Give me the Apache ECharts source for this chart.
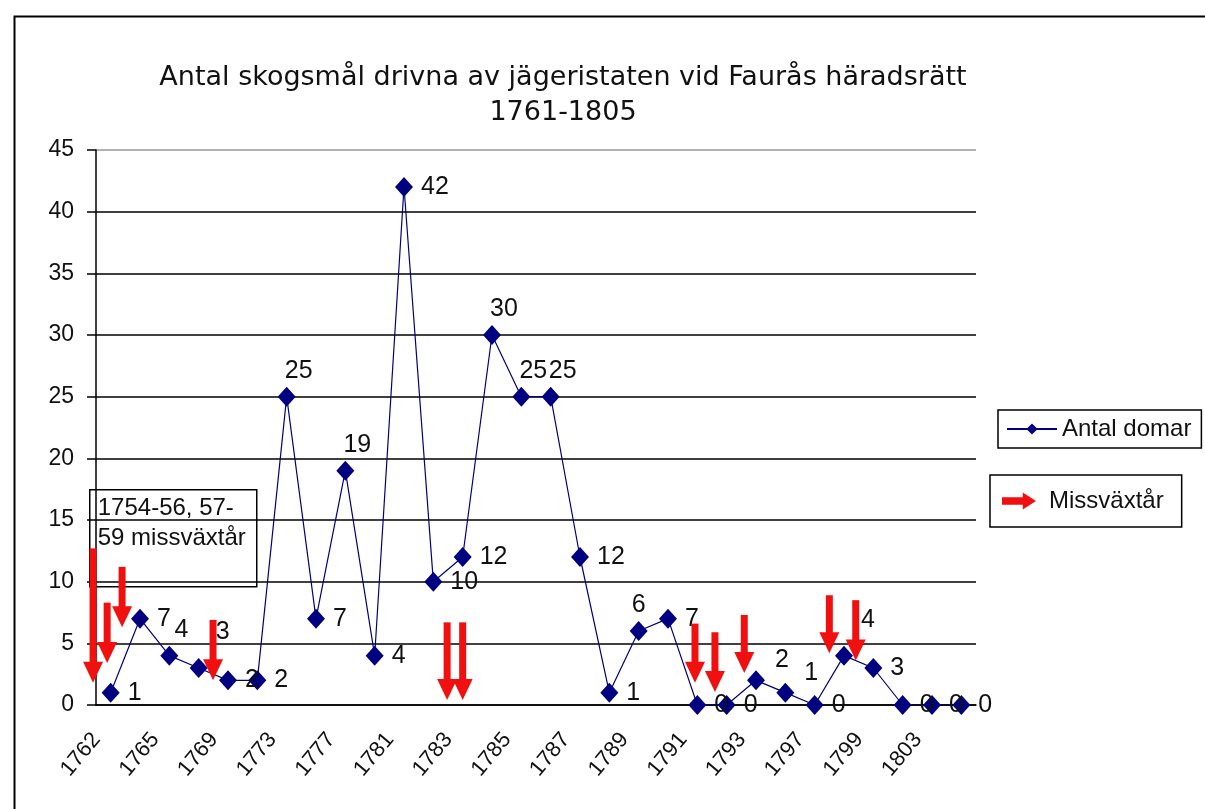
<!DOCTYPE html>
<html>
<head>
<meta charset="utf-8">
<script src="https://cdn.jsdelivr.net/npm/echarts@6/dist/echarts.min.js"></script>
<style>
  html, body { margin: 0; padding: 0; background: #fff; }
  #chart { width: 1205px; height: 809px; }
</style>
</head>
<body>
<div id="chart"></div>
<script>
// years (only every other one is labelled in the original)
var years = ['1762', '1764', '1765', '1767', '1769', '1771', '1773', '1775', '1777', '1779',
  '1781', '1782', '1783', '1784', '1785', '1786', '1787', '1788', '1789', '1790',
  '1791', '1792', '1793', '1795', '1797', '1798', '1799', '1801', '1803', '1805']
var domar = [1, 7, 4, 3, 2, 2, 25, 7, 19, 4, 42, 10, 12, 30, 25, 25, 12, 1, 6, 7,
  0, 0, 2, 1, 0, 4, 3, 0, 0, 0]
// where each data label sits: r = right, t = above, c = straight above, u / w = up-right
var labelPlace = ['r', 'r', 't', 'w', 'r', 'r', 't', 'r', 't', 'r', 'r', 'r', 'r', 't', 't',
  't', 'r', 'r', 'c', 'r', 'r', 'r', 'u', 'u', 'r', 'w', 'r', 'r', 'r', 'r']
// missväxtår arrows: position on the category scale, top and tip value
var missX = [-0.6, -0.12, 0.39, 3.49, 11.47, 12.0, 19.92, 20.6, 21.6, 24.5, 25.4]
var missTop = [12.7, 8.3, 11.2, 6.9, 6.7, 6.7, 6.6, 5.9, 7.3, 8.9, 8.5]
var missTip = [1.8, 3.4, 6.3, 2.0, 0.4, 0.4, 1.8, 1.05, 2.6, 4.2, 3.6]

var font = 'Liberation Sans'
var chart = echarts.init(document.getElementById('chart'))

var lineData = domar.map(function(v, i) {
  var p = labelPlace[i]
  var label = { position: 'right', distance: 8 }
  if (p === 't') label = { position: 'top', distance: 3, offset: [12, 0] }
  if (p === 'c') label = { position: 'top', distance: 3 }
  if (p === 'u') label = { position: 'right', distance: 10, offset: [0, -20] }
  if (p === 'w') label = { position: 'right', distance: 8, offset: [0, -36] }
  return { value: v, label: label }
})

var arrowData = missX.map(function(x, i) {
  return [x, missTop[i], missTip[i]]
})

function renderArrow(params, api) {
  var a = api.coord([api.value(0), api.value(1)])
  var b = api.coord([api.value(0), api.value(2)])
  var headH = 21
  var headW = 20
  var shaft = 7
  return {
    type: 'group',
    children: [
      {
        type: 'rect',
        shape: { x: a[0] - shaft / 2, y: a[1], width: shaft, height: Math.max(b[1] - a[1] - headH + 1, 0) },
        style: { fill: '#f01010' }
      },
      {
        type: 'polygon',
        shape: { points: [[a[0] - headW / 2, b[1] - headH], [a[0] + headW / 2, b[1] - headH], [a[0], b[1]]] },
        style: { fill: '#f01010' }
      }
    ]
  }
}

var option = {
  backgroundColor: '#fff',
  animation: false,
  textStyle: { fontFamily: font },
  title: {
    text: 'Antal skogsmål drivna av jägeristaten vid Faurås häradsrätt\n1761-1805',
    left: 558,
    top: 55,
    textAlign: 'center',
    textStyle: { fontFamily: 'DejaVu Sans', fontSize: 27, fontWeight: 'normal', color: '#111', lineHeight: 35 }
  },
  legend: [
    {
      data: ['Antal domar'],
      left: 998,
      top: 410,
      borderColor: '#000',
      borderWidth: 1.5,
      padding: [7, 10, 7, 8],
      itemWidth: 50,
      itemHeight: 14,
      itemGap: 4,
      textStyle: { fontFamily: font, fontSize: 24, color: '#111' }
    },
    {
      data: [{ name: 'Missväxtår', icon: 'path://M0,5 L22,5 L22,0 L36,9 L22,18 L22,13 L0,13 Z' }],
      left: 990,
      top: 475,
      borderColor: '#000',
      borderWidth: 1.5,
      padding: [14, 18, 14, 12],
      itemWidth: 38,
      itemHeight: 17,
      textStyle: { fontFamily: font, fontSize: 24, color: '#111', padding: [0, 0, 0, 6] }
    }
  ],
  grid: { left: 96, right: 229, top: 150, bottom: 104 },
  xAxis: [
    {
      type: 'category',
      data: years,
      boundaryGap: true,
      axisLine: { lineStyle: { color: '#000', width: 1.5 } },
      axisTick: { interval: 0, length: 8, lineStyle: { color: '#000', width: 1.5 } },
      axisLabel: {
        interval: 1,
        rotate: 50,
        margin: 14,
        padding: [0, 22, 0, 0],
        fontFamily: font,
        fontSize: 22,
        color: '#111'
      }
    },
    { type: 'value', min: -0.5, max: 29.5, show: false }
  ],
  yAxis: {
    type: 'value',
    min: 0,
    max: 45,
    interval: 5,
    axisLine: { show: true, onZero: false, lineStyle: { color: '#000', width: 1.5 } },
    axisTick: { show: true, length: 9, lineStyle: { color: '#000', width: 1.5 } },
    axisLabel: { margin: 22, fontFamily: font, fontSize: 23, color: '#111' },
    splitLine: {
      lineStyle: {
        width: 1.5,
        color: ['#000', '#000', '#000', '#000', '#000', '#000', '#000', '#000', '#000', '#999']
      }
    }
  },
  series: [
    {
      name: 'Antal domar',
      type: 'line',
      data: lineData,
      symbol: 'diamond',
      symbolSize: [18, 20],
      showAllSymbol: true,
      color: '#000080',
      lineStyle: { color: '#000080', width: 1.2 },
      itemStyle: { color: '#000080' },
      label: { show: true, fontFamily: font, fontSize: 25, color: '#111' },
      z: 3
    },
    {
      name: 'Missväxtår',
      type: 'custom',
      xAxisIndex: 1,
      yAxisIndex: 0,
      data: arrowData,
      renderItem: renderArrow,
      itemStyle: { color: '#f01010' },
      clip: false,
      z: 5
    }
  ],
  graphic: [
    {
      type: 'rect',
      left: 12,
      top: 14,
      z: 0,
      shape: { width: 1250, height: 850 },
      style: { fill: 'none', stroke: '#000', lineWidth: 2 }
    },
    {
      type: 'group',
      left: 89,
      top: 489,
      z: 1,
      children: [
        {
          type: 'rect',
          shape: { width: 167, height: 97 },
          style: { fill: '#fff', stroke: '#000', lineWidth: 1.5 }
        },
        {
          type: 'text',
          x: 8,
          y: 4,
          style: {
            text: '1754-56, 57-\n59 missväxtår',
            fontFamily: font,
            fontSize: 24,
            lineHeight: 30,
            fill: '#111'
          }
        }
      ]
    }
  ]
}

chart.setOption(option)
</script>
</body>
</html>
